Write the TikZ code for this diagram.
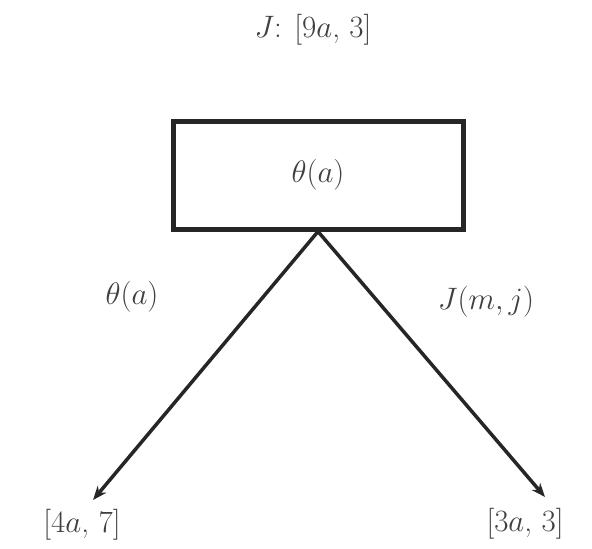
\RequirePackage{fix-cm}
\documentclass[tikz,border=0pt]{standalone}
\usepackage{amsmath,amssymb}
\usetikzlibrary{arrows.meta}

\begin{document}
\begin{tikzpicture}[x=1pt,y=-1pt,
  every node/.style={text=black!75,font=\fontsize{31}{36}\selectfont},
  box/.style={draw=black!85,line width=5pt,minimum width=290pt,minimum height=108pt},
  branch/.style={draw=black!85,line width=3.5pt,-{Stealth[length=14pt,width=11pt]}}]
  \useasboundingbox (0,0) rectangle (592,549);
  \node (top) at (313,30) {$J$: [9$a$, 3]};
  \node [box] (root) at (318,175) {$\theta(a)$};
  \node (left) at (82,525) {[4$a$, 7]};
  \node (right) at (525,524) {[3$a$, 3]};
  \draw [branch] (root.south) -- ([xshift=11pt,yshift=6pt]left.north);
  \draw [branch] (root.south) -- ([xshift=20pt,yshift=8pt]right.north);
  \node at (132,297) {$\theta(a)$};
  \node at (486,302) {$J(m,j)$};
\end{tikzpicture}
\end{document}
